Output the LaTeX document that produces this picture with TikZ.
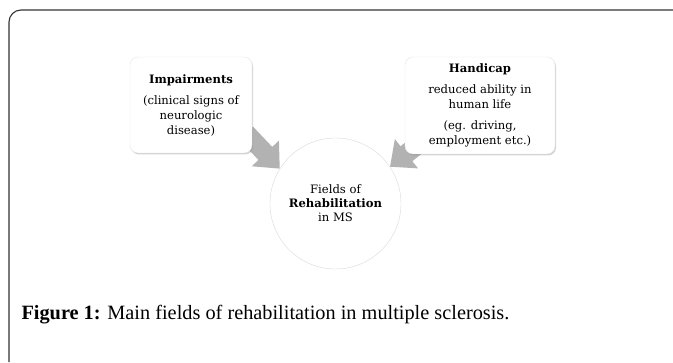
\documentclass[tikz,border=0pt]{standalone}
\usepackage{fontspec}
\setmainfont{Liberation Serif}
\newfontfamily\boxfont{DejaVu Serif}
\usetikzlibrary{arrows.meta,shadows,backgrounds}

\begin{document}
\begin{tikzpicture}[x=1pt,y=1pt,
  box/.style={rectangle, rounded corners=8pt, fill=white, draw=gray!20,
    align=center, inner sep=0pt, font=\boxfont\fontsize{11.6}{15}\selectfont,
    drop shadow={shadow xshift=1pt, shadow yshift=-1.5pt, opacity=0.35, fill=gray}},
  hub/.style={circle, fill=white, draw=gray!30, align=center, inner sep=0pt,
    minimum size=131pt, font=\boxfont\fontsize{11.6}{14}\selectfont},
  feed/.style={draw=gray!60, line width=19pt, -{Triangle[width=36pt,length=21pt]}}
]
\useasboundingbox (0,0) rectangle (673,362);

% Frame round the figure
\draw[black!80, line width=1.1pt, rounded corners=12pt] (9,0) -- (9,352) -- (673,352);

% Centre: fields of rehabilitation
\node[hub] (fields) at (335.5,158.5) {Fields of\\\textbf{Rehabilitation}\\in MS};

% Left box: impairments
\node[box, minimum width=122pt, minimum height=96pt] (imp) at (191,257)
  {\textbf{Impairments}\\[6pt](clinical signs of\\neurologic\\disease)};

% Right box: handicap
\node[box, minimum width=150pt, minimum height=97pt] (hand) at (480,256.5)
  {\textbf{Handicap}\\[6pt]reduced ability in\\human life\\[6pt](eg. driving,\\employment etc.)};

% Grey arrows into the circle
\coordinate (impout) at ([shift={(-6,20)}]imp.south east);
\coordinate (handout) at ([shift={(20,15)}]hand.south west);
\begin{scope}[on background layer]
\draw[feed] (impout) -- (fields.148);
\draw[feed] (handout) -- (fields.34);
\end{scope}

% Caption
\node[anchor=base west, font=\fontsize{20.3}{22}\selectfont] (cap) at (18,42)
  {\textbf{Figure 1:} Main fields of rehabilitation in multiple sclerosis.};

\end{tikzpicture}
\end{document}
